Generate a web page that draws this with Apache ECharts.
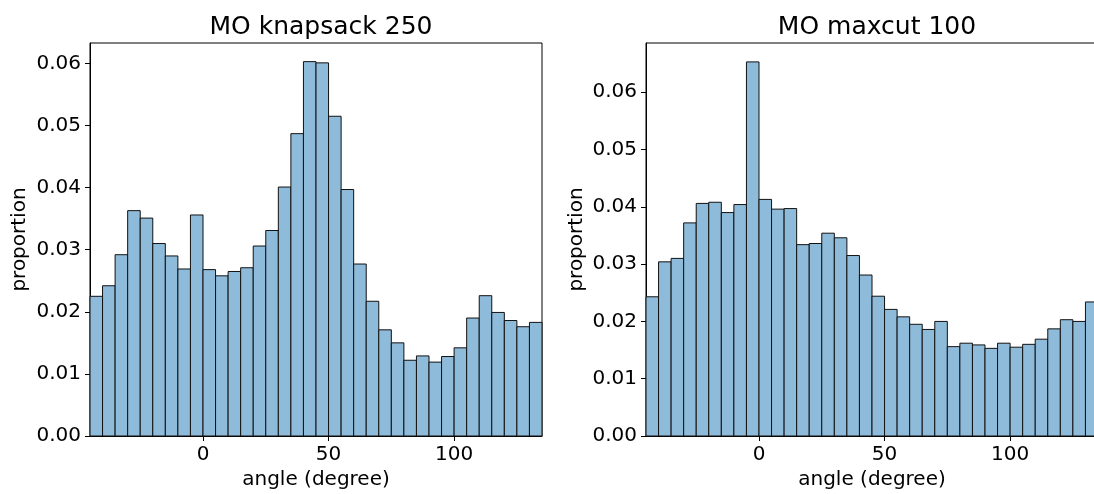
<!DOCTYPE html>
<html>
<head>
<meta charset="utf-8">
<script src="https://cdn.jsdelivr.net/npm/echarts@6/dist/echarts.min.js"></script>
<style>
  html, body { margin: 0; padding: 0; background: #fff; }
  #main { width: 1094px; height: 494px; }
</style>
</head>
<body>
<div id="main"></div>
<script>
// histogram bins: 36 bins of 5 degrees starting at -45
var binStart = -45;
var binWidth = 5;

var knapsackValues = [
    0.0225, 0.0242, 0.0292, 0.0363, 0.0351, 0.0310, 0.0290, 0.0269, 0.0356,
    0.0268, 0.0258, 0.0265, 0.0271, 0.0306, 0.0331, 0.0401, 0.0487, 0.0603,
    0.0601, 0.0515, 0.0397, 0.0277, 0.0217, 0.0171, 0.0150, 0.0122, 0.0129,
    0.0119, 0.0128, 0.0142, 0.0190, 0.0226, 0.0199, 0.0186, 0.0176, 0.0183
];
var maxcutValues = [
    0.0243, 0.0304, 0.0310, 0.0372, 0.0406, 0.0408, 0.0390, 0.0404, 0.0653,
    0.0413, 0.0396, 0.0397, 0.0334, 0.0336, 0.0354, 0.0346, 0.0315, 0.0281,
    0.0244, 0.0221, 0.0208, 0.0195, 0.0186, 0.0200, 0.0156, 0.0162, 0.0159,
    0.0153, 0.0162, 0.0155, 0.0160, 0.0169, 0.0187, 0.0203, 0.0200, 0.0234
];

var xTicks = [0, 50, 100];
var yTicks = [0, 0.01, 0.02, 0.03, 0.04, 0.05, 0.06];
var titles = ['MO knapsack 250', 'MO maxcut 100'];

var font = 'DejaVu Sans';
var barFill = 'rgb(143,187,218)';

var toBins = function (values) {
    return values.map(function (v, i) {
        var lo = binStart + i * binWidth;
        return [lo, lo + binWidth, v];
    });
};

var renderBin = function (params, api) {
    var topLeft = api.coord([api.value(0), api.value(2)]);
    var bottomRight = api.coord([api.value(1), 0]);
    return {
        type: 'rect',
        shape: {
            x: topLeft[0],
            y: topLeft[1],
            width: bottomRight[0] - topLeft[0],
            height: bottomRight[1] - topLeft[1]
        },
        style: { fill: barFill, stroke: '#111', lineWidth: 1 }
    };
};

var makeX = function (idx) {
    return {
        type: 'value', gridIndex: idx,
        min: binStart, max: binStart + binWidth * knapsackValues.length,
        name: 'angle (degree)', nameLocation: 'middle', nameGap: 34,
        nameTextStyle: { fontFamily: font, fontSize: 20, color: '#000' },
        splitLine: { show: false },
        axisLine: { show: true, onZero: false, lineStyle: { color: '#000', width: 1 } },
        axisTick: { show: true, length: 5, customValues: xTicks, lineStyle: { color: '#000' } },
        axisLabel: {
            customValues: xTicks, margin: 9,
            fontFamily: font, fontSize: 20, color: '#000'
        }
    };
};

var makeY = function (idx, max, gap) {
    return {
        type: 'value', gridIndex: idx, min: 0, max: max,
        name: 'proportion', nameLocation: 'middle', nameGap: gap,
        nameTextStyle: { fontFamily: font, fontSize: 20, color: '#000' },
        splitLine: { show: false },
        axisLine: { show: true, onZero: false, lineStyle: { color: '#000', width: 1 } },
        axisTick: { show: true, length: 5, customValues: yTicks, lineStyle: { color: '#000' } },
        axisLabel: {
            customValues: yTicks, margin: 9,
            fontFamily: font, fontSize: 20, color: '#000',
            formatter: function (v) { return v.toFixed(2); }
        }
    };
};

var chart = echarts.init(document.getElementById('main'), null, { renderer: 'canvas' });

var option = {
    animation: false,
    backgroundColor: '#fff',
    title: [
        {
            text: titles[0], left: 316, top: 10, textAlign: 'center',
            textStyle: { fontFamily: font, fontSize: 25, fontWeight: 'normal', color: '#000' }
        },
        {
            text: titles[1], left: 872, top: 10, textAlign: 'center',
            textStyle: { fontFamily: font, fontSize: 25, fontWeight: 'normal', color: '#000' }
        }
    ],
    grid: [
        {
            left: 90, top: 43, width: 452, height: 393, outerBoundsMode: 'none',
            show: true, borderColor: '#000', borderWidth: 1
        },
        {
            left: 646, top: 43, width: 452, height: 393, outerBoundsMode: 'none',
            show: true, borderColor: '#000', borderWidth: 1
        }
    ],
    xAxis: [makeX(0), makeX(1)],
    yAxis: [makeY(0, 0.0633, 60), makeY(1, 0.0686, 59)],
    series: [
        {
            type: 'custom', xAxisIndex: 0, yAxisIndex: 0,
            renderItem: renderBin, encode: { x: [0, 1], y: 2 },
            data: toBins(knapsackValues)
        },
        {
            type: 'custom', xAxisIndex: 1, yAxisIndex: 1,
            renderItem: renderBin, encode: { x: [0, 1], y: 2 },
            data: toBins(maxcutValues)
        }
    ]
};

chart.setOption(option);
</script>
</body>
</html>
